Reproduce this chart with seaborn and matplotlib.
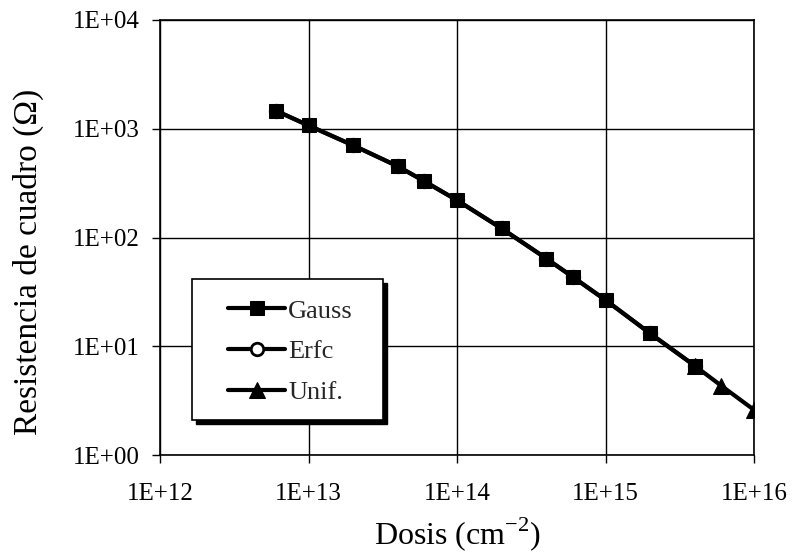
import matplotlib
matplotlib.use("Agg")
import matplotlib.pyplot as plt
from matplotlib.patches import Rectangle
import seaborn as sns
import pandas as pd

# Data
dosis_gauss = [6e12, 1e13, 2e13, 4e13, 6e13, 1e14, 2e14, 4e14, 6e14, 1e15, 2e15, 4e15]
rs_gauss = [1470, 1072, 703, 451, 330, 220, 121, 64, 43.5, 26.6, 13.1, 6.6]
dosis_erfc = [6e12, 1e13, 2e13, 4e13, 6e13, 1e14, 2e14, 4e14, 6e14, 1e15, 2e15, 4e15]
rs_erfc = [1470, 1072, 703, 451, 330, 220, 121, 64, 43.5, 26.6, 13.1, 6.6]
dosis_unif = [4e15, 6e15, 1e16]
rs_unif = [6.6, 4.35, 2.6]

x_ticks = [1e12, 1e13, 1e14, 1e15, 1e16]
x_labels = ["1E+12", "1E+13", "1E+14", "1E+15", "1E+16"]
y_ticks = [1e0, 1e1, 1e2, 1e3, 1e4]
y_labels = ["1E+00", "1E+01", "1E+02", "1E+03", "1E+04"]

sns.set_theme(style="white")
plt.rcParams['font.family'] = ['Liberation Serif', 'DejaVu Serif']
plt.rcParams['mathtext.fontset'] = 'custom'
plt.rcParams['mathtext.rm'] = 'Liberation Serif'

W, H = 793, 556
fig = plt.figure(figsize=(W / 100, H / 100), dpi=100)
ax_l, ax_r, ax_t, ax_b = 160, 754, 20, 455
ax = fig.add_axes([ax_l / W, 1 - ax_b / H, (ax_r - ax_l) / W, (ax_b - ax_t) / H])

df_u = pd.DataFrame({"x": dosis_unif, "y": rs_unif})
df_e = pd.DataFrame({"x": dosis_erfc, "y": rs_erfc})
df_g = pd.DataFrame({"x": dosis_gauss, "y": rs_gauss})

sns.lineplot(data=df_u, x="x", y="y", ax=ax, color="black", lw=3,
             marker="^", markersize=11, markerfacecolor="black",
             markeredgecolor="black", label="Unif.", zorder=3)
sns.lineplot(data=df_e, x="x", y="y", ax=ax, color="black", lw=3,
             marker="o", markersize=9, markerfacecolor="white",
             markeredgecolor="black", markeredgewidth=2, label="Erfc", zorder=4)
sns.lineplot(data=df_g, x="x", y="y", ax=ax, color="black", lw=3,
             marker="s", markersize=9.5, markerfacecolor="black",
             markeredgecolor="black", label="Gauss", zorder=5)

ax.set_xscale("log")
ax.set_yscale("log")
ax.set_xlim(1e12, 1e16)
ax.set_ylim(1e0, 1e4)
ax.set_xticks(x_ticks)
ax.set_xticklabels(x_labels)
ax.set_yticks(y_ticks)
ax.set_yticklabels(y_labels)
ax.minorticks_off()
ax.tick_params(axis="both", which="major", direction="out", length=6, width=1,
               color="black", labelsize=18, labelcolor="black",
               bottom=True, left=True)
ax.tick_params(axis="x", pad=14)
ax.tick_params(axis="y", pad=8.5)
ax.grid(True, color="black", lw=1)
for s in ax.spines.values():
    s.set_color("black")
    s.set_linewidth(1.2)

ax.set_xlabel("Dosis (cm$^{-2}$)", fontsize=23, color="black")
ax.set_ylabel("Resistencia de cuadro (Ω)", fontsize=24, color="black")
ax.xaxis.set_label_coords(0.5, -0.138)
ax.yaxis.set_label_coords(-0.195, 0.444)

# legend frame with solid shadow
axw, axh = ax_r - ax_l, ax_b - ax_t
bx0, bx1, by0, by1 = 192, 383, 279, 420
sh = 4
ax.add_patch(Rectangle(((bx0 + sh - ax_l) / axw, (ax_b - by1 - sh) / axh),
                       (bx1 - bx0) / axw, (by1 - by0) / axh,
                       transform=ax.transAxes, facecolor="black",
                       edgecolor="black", zorder=8, clip_on=False))
ax.add_patch(Rectangle(((bx0 - ax_l) / axw, (ax_b - by1) / axh),
                       (bx1 - bx0) / axw, (by1 - by0) / axh,
                       transform=ax.transAxes, facecolor="white",
                       edgecolor="black", lw=1.2, zorder=9, clip_on=False))

handles, labels = ax.get_legend_handles_labels()
order = [labels.index("Gauss"), labels.index("Erfc"), labels.index("Unif.")]
leg = ax.legend([handles[i] for i in order], [labels[i] for i in order],
                loc="center", bbox_to_anchor=((290.5 - ax_l) / axw, (ax_b - 351.5) / axh),
                borderaxespad=0, borderpad=0, fontsize=19, frameon=False,
                handlelength=2.16, handletextpad=0.12, labelspacing=0.65)
leg.set_zorder(10)

fig.savefig("out.png", dpi=100, facecolor="white")
